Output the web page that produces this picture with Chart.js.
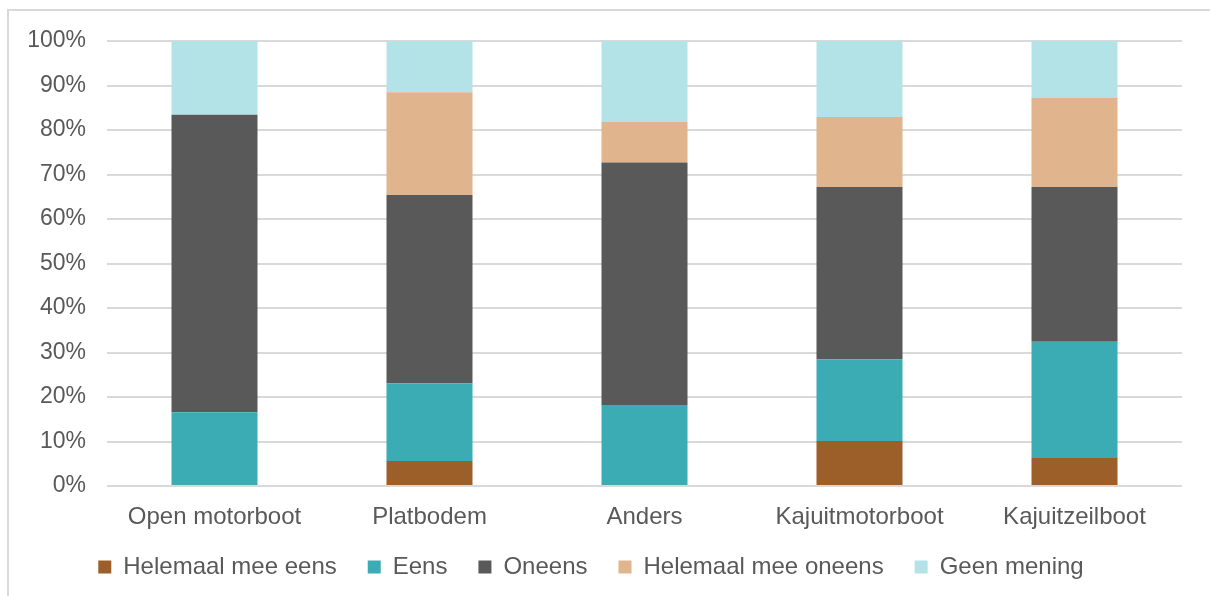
<!DOCTYPE html>
<html>
<head>
<meta charset="utf-8">
<script src="https://cdn.jsdelivr.net/npm/chart.js@4/dist/chart.umd.min.js"></script>
<style>
  html, body { margin: 0; padding: 0; background: #fff; overflow: hidden; }
  #frame {
    position: absolute;
    left: 7px;
    top: 9px;
    width: 1300px;
    height: 700px;
    border: 2px solid #d9d9d9;
  }
  #wrap {
    position: absolute;
    left: 0;
    top: 0;
    width: 1210px;
    height: 596px;
  }
</style>
</head>
<body>
<div id="frame"></div>
<div id="wrap"><canvas id="chart"></canvas></div>
<script>
const categories = ["Open motorboot", "Platbodem", "Anders", "Kajuitmotorboot", "Kajuitzeilboot"];

const helemaalEens = [0, 5.6, 0, 10.1, 6.3];
const eens = [16.6, 17.5, 18.2, 18.4, 26.1];
const oneens = [66.8, 42.3, 54.5, 38.7, 34.8];
const helemaalOneens = [0, 23.1, 9.1, 15.7, 20.0];
const geenMening = [16.6, 11.5, 18.2, 17.1, 12.8];

const yTicks = [0, 10, 20, 30, 40, 50, 60, 70, 80, 90, 100];

const textColor = "#595959";
const fontFamily = "'Liberation Sans', Arial, sans-serif";

const ctx = document.getElementById("chart").getContext("2d");

function series(label, data, color) {
  return {
    label: label,
    data: data,
    backgroundColor: color,
    borderWidth: 0,
    barPercentage: 0.4,
    categoryPercentage: 1
  };
}

// pull the legend a bit closer to the axis labels
const legendShift = {
  id: "legendShift",
  afterLayout: function (chart) {
    chart.legend.top -= 6;
    chart.legend.bottom -= 6;
  }
};

new Chart(ctx, {
  type: "bar",

  data: {
    labels: categories,
    datasets: [
      series("Helemaal mee eens", helemaalEens, "#9c5f2a"),
      series("Eens", eens, "#3cacb4"),
      series("Oneens", oneens, "#595959"),
      series("Helemaal mee oneens", helemaalOneens, "#e0b48c"),
      series("Geen mening", geenMening, "#b3e3e6")
    ]
  },

  plugins: [legendShift],

  options: {
    responsive: true,
    maintainAspectRatio: false,
    animation: false,

    layout: {
      padding: { top: 41, right: 28, bottom: 1, left: 0 }
    },

    plugins: {
      tooltip: { enabled: false },
      legend: {
        position: "bottom",
        labels: {
          color: textColor,
          font: { family: fontFamily, size: 24 },
          boxWidth: 13,
          boxHeight: 13,
          padding: 31
        }
      }
    },

    scales: {
      x: {
        stacked: true,
        afterFit: function (axis) {
          axis.height = 44;
        },
        grid: { display: false, drawTicks: false },
        border: { display: false },
        ticks: {
          color: textColor,
          font: { family: fontFamily, size: 24 },
          padding: 17,
          maxRotation: 0
        }
      },

      y: {
        stacked: true,
        min: 0,
        max: 100,
        afterFit: function (axis) {
          axis.width = 107;
        },
        afterBuildTicks: function (axis) {
          axis.ticks = yTicks.map(function (v) { return { value: v }; });
        },
        grid: {
          color: "#d9d9d9",
          lineWidth: 2,
          drawTicks: false
        },
        border: { display: false },
        ticks: {
          color: textColor,
          font: { family: fontFamily, size: 23 },
          padding: 21,
          callback: function (value) {
            return value + "%";
          }
        }
      }
    }
  }
});
</script>
</body>
</html>
